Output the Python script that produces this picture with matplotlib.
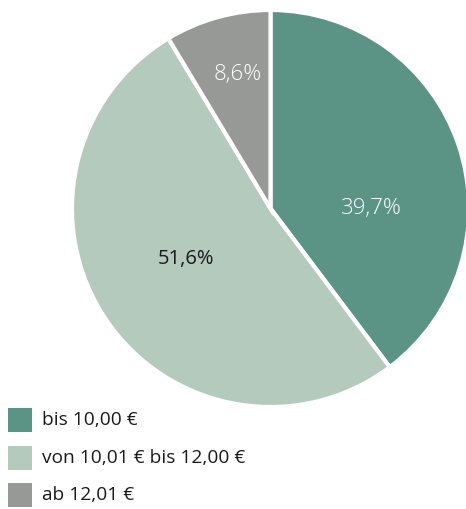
import matplotlib
matplotlib.use("Agg")
import matplotlib.pyplot as plt
from matplotlib.patches import Rectangle

plt.rcParams['font.family'] = ['Open Sans', 'DejaVu Sans']

labels = ['bis 10,00 €', 'von 10,01 € bis 12,00 €', 'ab 12,01 €']
values = [39.7, 51.6, 8.6]
value_text = ['39,7%', '51,6%', '8,6%']
colors = ['#5b9484', '#b4cabd', '#979996']
text_colors = ['white', '#1a1a1a', 'white']
text_weights = ['light', 'normal', 'light']
text_sizes = [16, 14.5, 16]
# label positions relative to the pie centre (in radii)
label_pos = [(0.51, 0.0), (-0.425, -0.255), (-0.166, 0.675)]

fig = plt.figure(figsize=(4.66, 5.09), dpi=100)
W, H = 466, 509
ax = fig.add_axes([72 / W, (H - 407) / H, 397 / W, 397 / H])

wedges, _ = ax.pie(values, colors=colors, startangle=90, counterclock=False,
                   radius=1.0, wedgeprops=dict(edgecolor='white', linewidth=3))
for (x, y), t, c, w, s in zip(label_pos, value_text, text_colors,
                              text_weights, text_sizes):
    ax.text(x, y, t, ha='center', va='center', fontsize=s, color=c,
            fontweight=w)
ax.set_xlim(-1, 1)
ax.set_ylim(-1, 1)
ax.set_aspect('equal')
ax.axis('off')

# legend, drawn by hand
row_y = [420, 458, 495]
for yc, lab, col in zip(row_y, labels, colors):
    fig.patches.append(Rectangle((8 / W, (H - yc - 12) / H), 24 / W, 24 / H,
                                 facecolor=col, edgecolor='none',
                                 transform=fig.transFigure))
    fig.text(42 / W, (H - yc) / H, lab, ha='left', va='center',
             fontsize=13.8, color='#1a1a1a')

fig.savefig('out.png', dpi=100)
